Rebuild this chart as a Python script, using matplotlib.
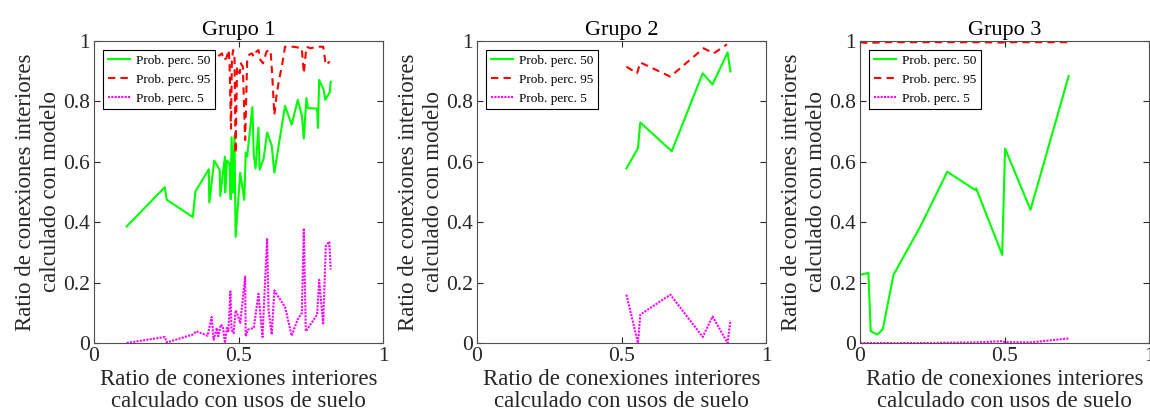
import matplotlib
matplotlib.use("Agg")
import matplotlib.pyplot as plt

plt.rcParams["font.family"] = ["Liberation Serif", "DejaVu Serif"]

# ---------------- datos ----------------
g1_x50 = [0.113, 0.245, 0.252, 0.342, 0.351, 0.397, 0.399, 0.416, 0.435, 0.437,
          0.453, 0.454, 0.460, 0.469, 0.473, 0.476, 0.481, 0.486, 0.490, 0.506,
          0.520, 0.525, 0.530, 0.548, 0.553, 0.559, 0.569, 0.573, 0.587, 0.599,
          0.615, 0.624, 0.661, 0.684, 0.705, 0.719, 0.726, 0.735, 0.740, 0.772,
          0.775, 0.779, 0.795, 0.800, 0.816, 0.819]
g1_y50 = [0.386, 0.516, 0.474, 0.417, 0.502, 0.575, 0.465, 0.604, 0.573, 0.487,
          0.617, 0.499, 0.604, 0.595, 0.476, 0.681, 0.498, 0.686, 0.351, 0.564,
          0.474, 0.631, 0.617, 0.781, 0.620, 0.578, 0.713, 0.574, 0.611, 0.697,
          0.653, 0.564, 0.785, 0.723, 0.805, 0.754, 0.677, 0.811, 0.778, 0.776,
          0.712, 0.871, 0.838, 0.805, 0.831, 0.865]

g1_x95 = [0.430, 0.443, 0.448, 0.458, 0.466, 0.469, 0.474, 0.477, 0.481, 0.486,
          0.490, 0.495, 0.504, 0.508, 0.515, 0.523, 0.530, 0.536, 0.546, 0.553,
          0.562, 0.569, 0.576, 0.585, 0.597, 0.606, 0.611, 0.617, 0.624, 0.631,
          0.640, 0.650, 0.661, 0.691, 0.719, 0.726, 0.735, 0.749, 0.772, 0.793,
          0.802, 0.816]
g1_y95 = [0.950, 0.959, 0.937, 0.943, 0.970, 0.926, 0.710, 0.931, 0.970, 0.959,
          0.628, 0.915, 0.893, 0.926, 0.915, 0.672, 0.937, 0.954, 0.959, 0.948,
          0.965, 0.970, 0.937, 0.926, 0.965, 0.970, 0.968, 0.882, 0.755, 0.816,
          0.871, 0.915, 0.981, 0.981, 0.976, 0.893, 0.981, 0.976, 0.981, 0.981,
          0.921, 0.932]

g1_x5 = [0.113, 0.245, 0.252, 0.342, 0.354, 0.393, 0.407, 0.414, 0.425, 0.430,
         0.439, 0.446, 0.453, 0.460, 0.465, 0.472, 0.476, 0.483, 0.490, 0.497,
         0.506, 0.523, 0.525, 0.532, 0.553, 0.569, 0.583, 0.599, 0.604, 0.615,
         0.624, 0.661, 0.684, 0.705, 0.719, 0.726, 0.733, 0.749, 0.772, 0.779,
         0.793, 0.802, 0.814, 0.819]
g1_y5 = [0.000, 0.020, 0.002, 0.028, 0.039, 0.024, 0.086, 0.011, 0.050, 0.022,
         0.061, 0.055, 0.000, 0.050, 0.039, 0.171, 0.044, 0.033, 0.108, 0.094,
         0.066, 0.220, 0.022, 0.044, 0.050, 0.163, 0.020, 0.347, 0.110, 0.028,
         0.174, 0.119, 0.024, 0.079, 0.099, 0.380, 0.039, 0.061, 0.094, 0.209,
         0.061, 0.320, 0.336, 0.243]

g2_x50 = [0.517, 0.557, 0.565, 0.674, 0.781, 0.815, 0.867, 0.877]
g2_y50 = [0.578, 0.645, 0.730, 0.635, 0.893, 0.856, 0.962, 0.899]
g2_x95 = [0.517, 0.554, 0.565, 0.669, 0.784, 0.819, 0.865]
g2_y95 = [0.915, 0.893, 0.929, 0.882, 0.976, 0.959, 0.989]
g2_x5 = [0.517, 0.557, 0.565, 0.669, 0.781, 0.815, 0.867, 0.877]
g2_y5 = [0.160, 0.000, 0.094, 0.160, 0.020, 0.088, 0.000, 0.075]

g3_x = [0.000, 0.029, 0.037, 0.060, 0.079, 0.116, 0.209, 0.302, 0.398, 0.402,
        0.492, 0.502, 0.590, 0.722]
g3_y50 = [0.226, 0.232, 0.039, 0.028, 0.046, 0.226, 0.386, 0.567, 0.507, 0.512,
          0.292, 0.644, 0.441, 0.884]
g3_y95 = [0.996, 0.993, 0.994, 0.995, 0.996, 0.996, 0.996, 0.996, 0.996, 0.996,
          0.995, 0.996, 0.996, 0.996]
g3_y5 = [0.000, 0.000, 0.000, 0.000, 0.000, 0.000, 0.000, 0.001, 0.002, 0.002,
         0.006, 0.003, 0.002, 0.015]

grupos = ["Grupo 1", "Grupo 2", "Grupo 3"]
series = [
    (g1_x50, g1_y50, g1_x95, g1_y95, g1_x5, g1_y5),
    (g2_x50, g2_y50, g2_x95, g2_y95, g2_x5, g2_y5),
    (g3_x, g3_y50, g3_x, g3_y95, g3_x, g3_y5),
]
etiquetas = ["Prob. perc. 50", "Prob. perc. 95", "Prob. perc. 5"]

# ---------------- figura ----------------
fig = plt.figure(figsize=(11.5, 4.19), dpi=100)
lefts = [94, 477, 860]
gris = "#262626"

for i, (nombre, (x50, y50, x95, y95, x5, y5)) in enumerate(zip(grupos, series)):
    ax = fig.add_axes([lefts[i] / 1150, 76 / 419, 289 / 1150, 302 / 419])
    ax.plot(x50, y50, color="#00ff00", lw=1.5, label=etiquetas[0])
    ax.plot(x95, y95, color="red", lw=1.5, ls=(0, (3.5, 2.5)), label=etiquetas[1])
    ax.plot(x5, y5, color="magenta", lw=1.5, ls=(0, (1, 0.6)), label=etiquetas[2])
    ax.set_xlim(0, 1)
    ax.set_ylim(0, 1)
    ax.set_xticks([0, 0.5, 1])
    ax.set_xticklabels(["0", "0.5", "1"])
    ax.set_yticks([0, 0.2, 0.4, 0.6, 0.8, 1])
    ax.set_yticklabels(["0", "0.2", "0.4", "0.6", "0.8", "1"])
    ax.tick_params(direction="in", top=True, right=True, length=4,
                   labelsize=15.5, colors=gris, pad=3)
    for s in ax.spines.values():
        s.set_color("#505050")
        s.set_linewidth(0.8)
    ax.set_title(nombre, fontsize=16, pad=4)
    ax.set_xlabel("Ratio de conexiones interiores\ncalculado con usos de suelo",
                  fontsize=16.5, color=gris, linespacing=1.05, labelpad=2)
    ax.set_ylabel("Ratio de conexiones interiores\ncalculado con modelo",
                  fontsize=16.5, color=gris, linespacing=1.25, labelpad=1)
    leg = ax.legend(loc="upper left", fontsize=9.5, fancybox=False, framealpha=1,
                    edgecolor="black", handlelength=1.7, borderaxespad=0.7,
                    borderpad=0.35, labelspacing=0.5, handletextpad=0.45)
    leg.get_frame().set_linewidth(0.8)

fig.savefig("out.png", dpi=100)
